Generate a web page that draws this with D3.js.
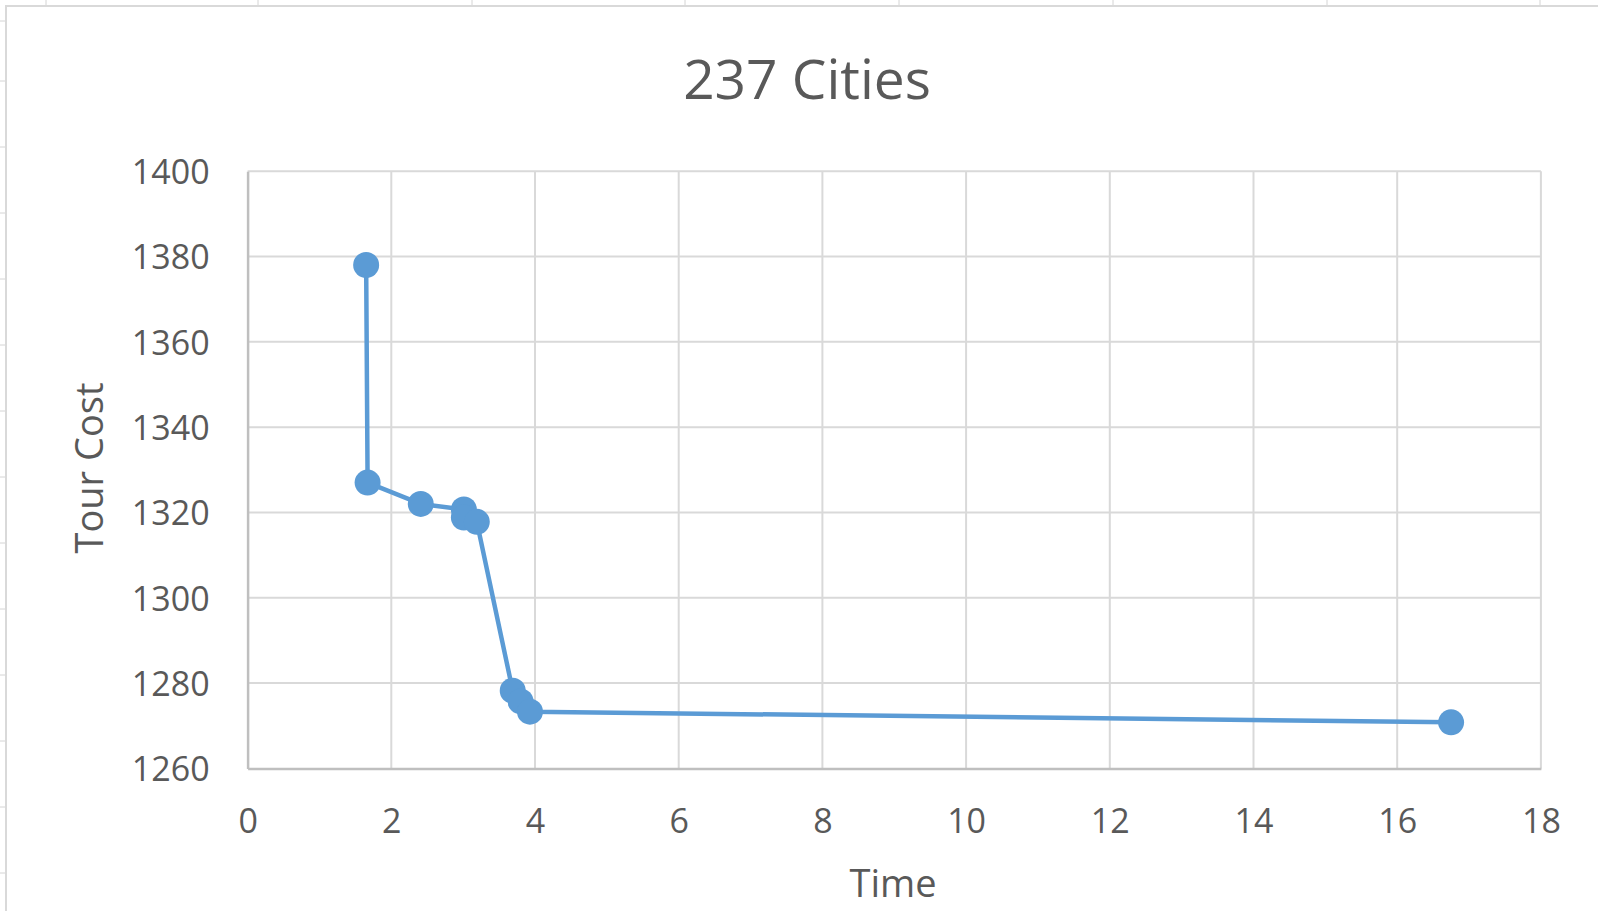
<!DOCTYPE html>
<html>
<head>
<meta charset="utf-8">
<script src="https://cdn.jsdelivr.net/npm/d3@7"></script>
<style>
  html, body { margin: 0; padding: 0; background: #ffffff; }
  svg { display: block; }
  text { font-family: "Open Sans", "Noto Sans", sans-serif; fill: #595959; }
</style>
</head>
<body>
<svg id="chart" width="1598" height="911"></svg>
<script>
// Tour cost found by the solver over time (237-city instance)
const timeValues = [1.65, 1.67, 2.41, 3.01, 3.01, 3.19, 3.69, 3.80, 3.93, 16.75];
const costValues = [1378, 1327, 1322, 1320.7, 1318.8, 1317.8, 1278.2, 1275.7, 1273.3, 1270.8];
const xTicks = [0, 2, 4, 6, 8, 10, 12, 14, 16, 18];
const yTicks = [1260, 1280, 1300, 1320, 1340, 1360, 1380, 1400];
const chartTitle = "237 Cities";
const xTitle = "Time";
const yTitle = "Tour Cost";

const svg = d3.select("#chart");
const W = 1598, H = 911;

// spreadsheet cells surrounding the chart object
const sheet = svg.append("g");
sheet.append("rect").attr("x", 0).attr("y", 0).attr("width", W).attr("height", 5).attr("fill", "#ffffff");
[46, 258, 472, 685, 899, 1113, 1327, 1540].forEach(x => {
  sheet.append("line").attr("x1", x).attr("x2", x).attr("y1", 0).attr("y2", 5)
    .attr("stroke", "#d4d4d4").attr("stroke-width", 1);
});
[21, 81, 147, 213, 279, 345, 411, 477, 543, 609, 675, 741, 807, 873].forEach(y => {
  sheet.append("line").attr("x1", 0).attr("x2", 5).attr("y1", y).attr("y2", y)
    .attr("stroke", "#d4d4d4").attr("stroke-width", 1);
});
// chart object frame
svg.append("line").attr("x1", 5).attr("x2", W).attr("y1", 6).attr("y2", 6)
  .attr("stroke", "#d9d9d9").attr("stroke-width", 2);
svg.append("line").attr("x1", 6).attr("x2", 6).attr("y1", 6).attr("y2", H)
  .attr("stroke", "#d9d9d9").attr("stroke-width", 2);

const x = d3.scaleLinear().domain([0, 18]).range([247.6, 1540.9]);
const y = d3.scaleLinear().domain([1260, 1400]).range([768.4, 171.2]);

// gridlines
const grid = svg.append("g");
grid.selectAll("line.v").data(xTicks.slice(1)).join("line")
  .attr("x1", d => x(d)).attr("x2", d => x(d))
  .attr("y1", y(1400)).attr("y2", y(1260))
  .attr("stroke", "#d9d9d9").attr("stroke-width", 2);
grid.selectAll("line.h").data(yTicks.slice(1)).join("line")
  .attr("x1", x(0)).attr("x2", x(18))
  .attr("y1", d => y(d)).attr("y2", d => y(d))
  .attr("stroke", "#d9d9d9").attr("stroke-width", 2);

// axes
const xAxis = d3.axisBottom(x).tickValues(xTicks).tickSize(0).tickPadding(40).tickFormat(d3.format("d"));
const yAxis = d3.axisLeft(y).tickValues(yTicks).tickSize(0).tickPadding(38).tickFormat(d3.format("d"));

const gx = svg.append("g").attr("transform", `translate(0,${y(1260)})`).call(xAxis);
const gy = svg.append("g").attr("transform", `translate(${x(0)},0)`).call(yAxis);
[gx, gy].forEach(g => {
  g.select(".domain").attr("stroke", "#bfbfbf").attr("stroke-width", 2.5);
  g.selectAll("text").style("font-family", '"Open Sans", sans-serif')
    .attr("font-size", 34).attr("fill", "#595959");
});
gx.selectAll("text").attr("dy", "0.35em").attr("y", 53);
gy.selectAll("text").attr("dy", "0.36em");

// series line and markers
const pts = timeValues.map((t, i) => [t, costValues[i]]);
svg.append("path")
  .datum(pts)
  .attr("fill", "none")
  .attr("stroke", "#5b9bd5")
  .attr("stroke-width", 4.5)
  .attr("stroke-linejoin", "round")
  .attr("d", d3.line().x(d => x(d[0])).y(d => y(d[1])));
svg.append("g").selectAll("circle").data(pts).join("circle")
  .attr("cx", d => x(d[0])).attr("cy", d => y(d[1]))
  .attr("r", 13).attr("fill", "#5b9bd5");

// titles
svg.append("text").attr("x", 807).attr("y", 99).attr("text-anchor", "middle")
  .attr("font-size", 55).text(chartTitle);
svg.append("text").attr("x", 893).attr("y", 897).attr("text-anchor", "middle")
  .attr("font-size", 38).text(xTitle);
svg.append("text").attr("transform", `translate(103,468) rotate(-90)`)
  .attr("text-anchor", "middle").attr("font-size", 38).text(yTitle);
</script>
</body>
</html>
